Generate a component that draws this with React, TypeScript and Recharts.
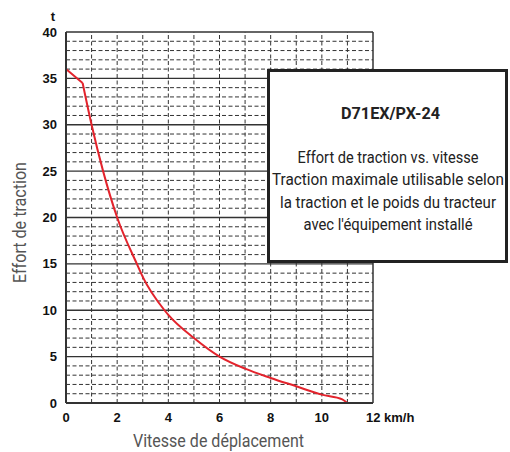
import React from "react";
import { LineChart, Line, XAxis, YAxis, ReferenceLine } from "recharts";

// traction curve (km/h -> t)
const speed = [0, 0.65, 1, 1.45, 2, 2.77, 3, 3.85, 4, 5, 6, 7, 8, 9, 10, 10.8, 11];
const force = [36, 34.5, 30, 25, 20, 15, 13.6, 10, 9.5, 7.0, 5, 3.7, 2.7, 1.8, 0.9, 0.4, 0];

const xTicks = [0, 2, 4, 6, 8, 10, 12];
const yTicks = [0, 5, 10, 15, 20, 25, 30, 35, 40];
const gridX = [1, 2, 3, 4, 5, 6, 7, 8, 9, 10, 11];
const gridYMinor = [
  1, 2, 3, 4, 6, 7, 8, 9, 11, 12, 13, 14, 16, 17, 18, 19,
  21, 22, 23, 24, 26, 27, 28, 29, 31, 32, 33, 34, 36, 37, 38, 39,
];
const gridYMajor = [5, 10, 15, 20, 25, 30, 35, 40];

const boxTitle = "D71EX/PX-24";
const boxLines = [
  "Effort de traction vs. vitesse",
  "Traction maximale utilisable selon",
  "la traction et le poids du tracteur",
  "avec l'équipement installé",
];
// rendered widths of the box lines in the reference (condensed face)
const boxLineWidths = [181, 232, 216, 169];

const points = speed.map((s, i) => ({ speed: s, force: force[i] }));
// straight start up to the kink, smooth curve after it
const head = points.slice(0, 2);
const tail = points.slice(1);

const textFont = "Roboto, 'Noto Sans', sans-serif";
const tickFont = "'Liberation Sans', Arial, sans-serif";
const squeeze = 0.88;

function XTick(props: any) {
  const { x, y, payload } = props;
  const last = payload.value === 12;
  return (
    <text
      x={last ? x - 7 : x}
      y={y + 11}
      textAnchor={last ? "start" : "middle"}
      fontFamily={tickFont}
      fontWeight="bold"
      fontSize={13}
      fill="#111"
    >
      {last ? "12 km/h" : payload.value}
    </text>
  );
}

export default function App() {
  return (
    <div style={{ position: "absolute", left: 0, top: 0, width: 510, height: 452, background: "#fff" }}>
      <LineChart width={510} height={452} margin={{ top: 32, right: 137, left: 26, bottom: 19 }}>
        {gridYMinor.map((v) => (
          <ReferenceLine key={"ym" + v} y={v} stroke="#333" strokeWidth={1} strokeDasharray="4 2.5" />
        ))}
        {gridX.map((v) => (
          <ReferenceLine key={"x" + v} x={v} stroke="#333" strokeWidth={1} strokeDasharray="4 2.5" />
        ))}
        {gridYMajor.map((v) => (
          <ReferenceLine key={"yM" + v} y={v} stroke="#333" strokeWidth={1.3} />
        ))}
        <ReferenceLine x={12} stroke="#333" strokeWidth={1.5} />
        <XAxis
          type="number"
          dataKey="speed"
          domain={[0, 12]}
          ticks={xTicks}
          height={30}
          tickLine={false}
          axisLine={{ stroke: "#333", strokeWidth: 2 }}
          tick={<XTick />}
          interval={0}
          allowDuplicatedCategory={false}
          label={{
            content: () => (
              <text
                x={133}
                y={447}
                textLength={171}
                lengthAdjust="spacingAndGlyphs"
                fontFamily={textFont}
                fontSize={19}
                fill="#555"
              >
                Vitesse de déplacement
              </text>
            ),
          }}
        />
        <YAxis
          type="number"
          domain={[0, 40]}
          ticks={yTicks}
          width={40}
          tickLine={false}
          axisLine={{ stroke: "#333", strokeWidth: 2 }}
          interval={0}
          tick={{ fontFamily: tickFont, fontWeight: "bold", fontSize: 13, fill: "#111" }}
          tickMargin={3}
          label={{
            content: () => (
              <g>
                <text x={53} y={21} textAnchor="middle" fontFamily={tickFont} fontWeight="bold" fontSize={13} fill="#111">
                  t
                </text>
                <text
                  x={26}
                  y={283}
                  transform="rotate(-90 26 283)"
                  textLength={121}
                  lengthAdjust="spacingAndGlyphs"
                  fontFamily={textFont}
                  fontSize={19}
                  fill="#555"
                >
                  Effort de traction
                </text>
              </g>
            ),
          }}
        />
        <Line
          data={head}
          type="linear"
          dataKey="force"
          stroke="#e3232c"
          strokeWidth={2}
          dot={false}
          isAnimationActive={false}
        />
        <Line
          data={tail}
          type="monotone"
          dataKey="force"
          stroke="#e3232c"
          strokeWidth={2}
          dot={false}
          isAnimationActive={false}
        />
      </LineChart>
      <svg width={510} height={452} style={{ position: "absolute", left: 0, top: 0 }}>
        <rect x={268.5} y={70.5} width={238} height={191} fill="#fff" stroke="#222" strokeWidth={3} />
        <g transform={`scale(${squeeze} 1)`}>
          <text
            x={341 / squeeze}
            y={119}
            textLength={99 / squeeze}
            lengthAdjust="spacingAndGlyphs"
            fontFamily={textFont}
            fontWeight="bold"
            fontSize={16}
            fill="#222"
          >
            {boxTitle}
          </text>
          {boxLines.map((l, i) => (
            <text
              key={l}
              x={(388 - boxLineWidths[i] / 2) / squeeze}
              y={163 + i * 22.3}
              textLength={boxLineWidths[i] / squeeze}
              lengthAdjust="spacingAndGlyphs"
              fontFamily={textFont}
              fontSize={17}
              fill="#222"
            >
              {l}
            </text>
          ))}
        </g>
      </svg>
    </div>
  );
}
